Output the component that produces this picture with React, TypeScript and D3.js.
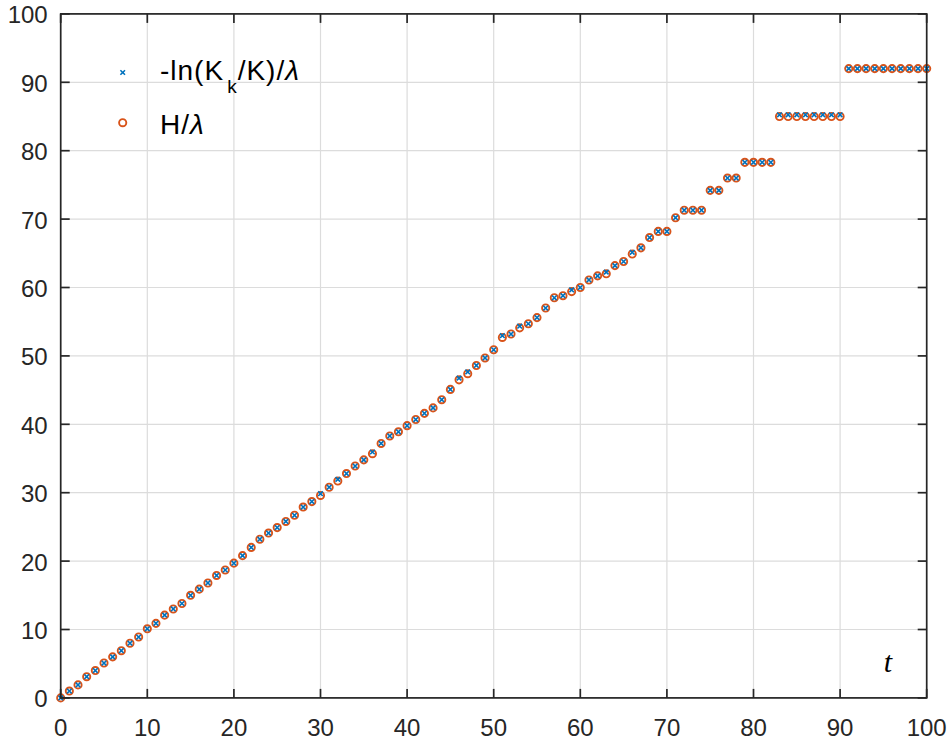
import React from "react";
import * as d3 from "d3";

const tValues = [
  0, 1, 2, 3, 4, 5, 6, 7, 8, 9, 10, 11, 12, 13, 14, 15, 16, 17, 18, 19, 20,
  21, 22, 23, 24, 25, 26, 27, 28, 29, 30, 31, 32, 33, 34, 35, 36, 37, 38, 39, 40,
  41, 42, 43, 44, 45, 46, 47, 48, 49, 50, 51, 52, 53, 54, 55, 56, 57, 58, 59, 60,
  61, 62, 63, 64, 65, 66, 67, 68, 69, 70, 71, 72, 73, 74, 75, 76, 77, 78, 79, 80,
  81, 82, 83, 84, 85, 86, 87, 88, 89, 90, 91, 92, 93, 94, 95, 96, 97, 98, 99, 100,
];

// H / lambda
const hValues = [
  0, 1.0, 1.9, 3.1, 4.0, 5.1, 6.0, 6.9, 8.0, 8.9,
  10.1, 10.9, 12.1, 13.0, 13.8, 15.0, 15.9, 16.8, 17.9, 18.7,
  19.7, 20.8, 22.0, 23.2, 24.1, 24.9, 25.8, 26.7, 27.9, 28.7,
  29.6, 30.8, 31.7, 32.8, 33.9, 34.8, 35.7, 37.2, 38.3, 38.9,
  39.8, 40.7, 41.6, 42.4, 43.6, 45.1, 46.5, 47.4, 48.6, 49.7,
  50.9, 52.7, 53.2, 54.1, 54.7, 55.6, 57.0, 58.5, 58.8, 59.4,
  60.0, 61.1, 61.7, 62.0, 63.2, 63.8, 64.9, 65.8, 67.3, 68.2,
  68.2, 70.2, 71.3, 71.3, 71.3, 74.2, 74.2, 76.0, 76.0, 78.3,
  78.3, 78.3, 78.3, 85.0, 85.0, 85.0, 85.0, 85.0, 85.0, 85.0,
  85.0, 92.0, 92.0, 92.0, 92.0, 92.0, 92.0, 92.0, 92.0, 92.0,
  92.0,
];

// -ln(K_k/K) / lambda
const kValues = [
  0, 1.0, 1.9, 3.1, 4.0, 5.1, 6.0, 6.9, 8.0, 8.9,
  10.1, 10.9, 12.1, 13.0, 13.8, 15.0, 15.9, 16.8, 17.9, 18.7,
  19.7, 20.8, 22.0, 23.2, 24.1, 24.9, 25.8, 26.7, 27.9, 28.7,
  29.85, 30.8, 31.95, 32.8, 33.9, 34.8, 35.95, 37.2, 38.3, 38.9,
  39.8, 40.7, 41.6, 42.4, 43.6, 45.1, 46.75, 47.65, 48.6, 49.7,
  50.9, 52.95, 53.2, 54.35, 54.7, 55.6, 57.0, 58.5, 58.8, 59.65,
  60.0, 61.1, 61.7, 62.25, 63.2, 63.8, 65.15, 65.8, 67.3, 68.2,
  68.2, 70.2, 71.3, 71.3, 71.3, 74.2, 74.2, 76.0, 76.0, 78.3,
  78.3, 78.3, 78.3, 85.25, 85.25, 85.25, 85.25, 85.25, 85.25, 85.25,
  85.25, 92.0, 92.0, 92.0, 92.0, 92.0, 92.0, 92.0, 92.0, 92.0,
  92.0,
];

const xTicks = [0, 10, 20, 30, 40, 50, 60, 70, 80, 90, 100];
const yTicks = [0, 10, 20, 30, 40, 50, 60, 70, 80, 90, 100];

const W = 952;
const H = 742;
const M = { left: 60.7, right: 926.7, top: 13.9, bottom: 697.9 };

const BLUE = "#0072BD";
const ORANGE = "#D95319";
const AXIS = "#262626";
const FONT = "'Liberation Sans', Arial, Helvetica, sans-serif";

function XMark({ x, y, s = 2.3 }: { x: number; y: number; s?: number }) {
  return (
    <path
      d={`M${x - s},${y - s}L${x + s},${y + s}M${x - s},${y + s}L${x + s},${y - s}`}
      stroke={BLUE}
      strokeWidth={1.6}
      fill="none"
    />
  );
}

export default function App() {
  const x = d3.scaleLinear().domain([0, 100]).range([M.left, M.right]);
  const y = d3.scaleLinear().domain([0, 100]).range([M.bottom, M.top]);
  const tick = 9;

  return (
    <svg
      width={W}
      height={H}
      style={{ position: "absolute", left: 0, top: 0, background: "#fff" }}
      fontFamily={FONT}
    >
      <rect x={0} y={0} width={W} height={H} fill="#fff" />
      {/* grid */}
      {xTicks.map((t) => (
        <line key={"gx" + t} x1={x(t)} x2={x(t)} y1={M.top} y2={M.bottom} stroke="#dcdcdc" strokeWidth={1.2} />
      ))}
      {yTicks.map((t) => (
        <line key={"gy" + t} x1={M.left} x2={M.right} y1={y(t)} y2={y(t)} stroke="#dcdcdc" strokeWidth={1.2} />
      ))}

      {/* data: circles then x marks */}
      {tValues.map((t, i) => (
        <circle key={"c" + i} cx={x(t)} cy={y(hValues[i])} r={3.6} fill="none" stroke={ORANGE} strokeWidth={1.9} />
      ))}
      {tValues.map((t, i) => (
        <XMark key={"k" + i} x={x(t)} y={y(kValues[i])} />
      ))}

      {/* box */}
      <rect
        x={M.left}
        y={M.top}
        width={M.right - M.left}
        height={M.bottom - M.top}
        fill="none"
        stroke={AXIS}
        strokeWidth={1.7}
      />
      {/* ticks */}
      {xTicks.map((t) => (
        <g key={"tx" + t}>
          <line x1={x(t)} x2={x(t)} y1={M.bottom} y2={M.bottom - tick} stroke={AXIS} strokeWidth={1.7} />
          <line x1={x(t)} x2={x(t)} y1={M.top} y2={M.top + tick} stroke={AXIS} strokeWidth={1.7} />
          <text x={x(t)} y={M.bottom + 38.5} textAnchor="middle" fontSize={24} fill={AXIS}>
            {t}
          </text>
        </g>
      ))}
      {yTicks.map((t) => (
        <g key={"ty" + t}>
          <line x1={M.left} x2={M.left + tick} y1={y(t)} y2={y(t)} stroke={AXIS} strokeWidth={1.7} />
          <line x1={M.right} x2={M.right - tick} y1={y(t)} y2={y(t)} stroke={AXIS} strokeWidth={1.7} />
          <text x={M.left - 13} y={y(t) + 9.5} textAnchor="end" fontSize={24} fill={AXIS}>
            {t}
          </text>
        </g>
      ))}

      {/* t label */}
      <text
        x={888}
        y={672}
        textAnchor="middle"
        fontSize={30}
        fontStyle="italic"
        fontFamily="'Liberation Serif', 'Times New Roman', serif"
        fill="#000"
      >
        t
      </text>

      {/* legend */}
      <XMark x={122.7} y={72.5} s={2.3} />
      <text x={160} y={79.5} fontSize={28} fill="#000" letterSpacing={1}>
        -ln(K
        <tspan fontSize={19} dx={3} dy={13.5}>k</tspan>
        <tspan dx={0} dy={-13.5}>/K)/</tspan>
        <tspan fontStyle="italic">λ</tspan>
      </text>
      <circle cx={122.7} cy={122.7} r={3.6} fill="none" stroke={ORANGE} strokeWidth={1.9} />
      <text x={160} y={133.5} fontSize={28} fill="#000" letterSpacing={1}>
        H/
        <tspan fontStyle="italic">λ</tspan>
      </text>
    </svg>
  );
}
